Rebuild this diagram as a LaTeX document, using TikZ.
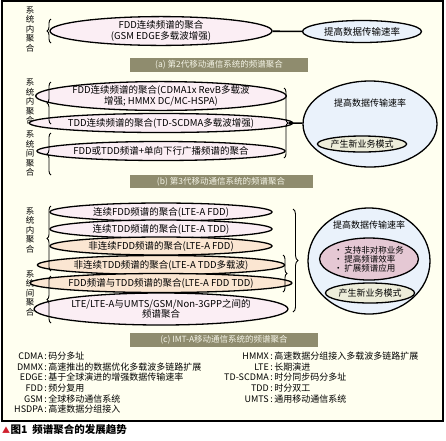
\documentclass[tikz,border=0pt]{standalone}
\usepackage{fontspec}
\setmainfont{Noto Sans CJK SC}
\usetikzlibrary{shapes.geometric,decorations.pathreplacing}
\definecolor{cream}{HTML}{FFFFF0}
\definecolor{pinkA}{HTML}{FBEEF4}
\definecolor{peach}{HTML}{FBE6D2}
\definecolor{blueA}{HTML}{EAF2FB}
\definecolor{sage}{HTML}{EDEDDA}
\definecolor{dpink}{HTML}{E5C8D4}
\definecolor{olive}{HTML}{8F8C6E}
\definecolor{captxt}{HTML}{F4F4E6}
\definecolor{redtri}{HTML}{D0202E}
\begin{document}
\begin{tikzpicture}[x=1pt,y=-1pt,
  lens/.style={ellipse, draw, line width=1.3pt, inner sep=0pt, align=center, font=\fontsize{9.5}{10.5}\selectfont},
  small/.style={ellipse, draw, line width=1.3pt, inner sep=0pt, align=center, font=\fontsize{9}{10}\selectfont},
  vlab/.style={align=center, inner sep=0pt, font=\fontsize{8.5}{9.6}\selectfont},
  capbar/.style={fill=olive, text=captxt, inner sep=0pt, font=\fontsize{8.5}{9}\selectfont},
  brc/.style={decorate, decoration={brace, amplitude=4pt}, line width=0.9pt},
  conn/.style={line width=1.6pt},
  plain/.style={inner sep=0pt, font=\fontsize{9}{10}\selectfont},
  legend/.style={inner sep=0pt, anchor=north west, font=\fontsize{9}{10.4}\selectfont}
]
\useasboundingbox (0,0) rectangle (446,440);
\fill[white] (0,0) rectangle (446,440);
\draw[line width=2pt, fill=cream] (2,1) rectangle (443,421);

% ---------- panel (a)
\node[vlab] (la) at (30,29) {系\\统\\内\\聚\\合};
\node[lens, fill=pinkA, minimum width=222pt, minimum height=23pt] (a1) at (161,31) {FDD连续频谱的聚合\\(GSM EDGE多载波增强)};
\node[lens, fill=blueA, minimum width=119pt, minimum height=22pt] (a2) at (362,31.5) {提高数据传输速率};
\draw[conn] (a1) -- (a2);
\draw[brc] (51,43) -- (51,19);
\node[capbar, minimum width=178pt, minimum height=14pt] (ca) at (219,65) {(a) 第2代移动通信系统的频谱聚合};

% ---------- panel (b)
\node[vlab] (lb1) at (30,101.5) {系\\统\\内\\聚\\合};
\node[vlab] (lb2) at (30,153.5) {系\\统\\间\\聚\\合};
\node[lens, fill=pinkA, minimum width=222pt, minimum height=24pt] (b1) at (161,96) {FDD连续频谱的聚合(CDMA1x RevB多载波\\增强; HMMX DC/MC-HSPA)};
\node[lens, fill=pinkA, minimum width=222pt, minimum height=19pt] (b2) at (161,123) {TDD连续频谱的聚合(TD-SCDMA多载波增强)};
\node[lens, fill=pinkA, minimum width=222pt, minimum height=19pt] (b3) at (161,151) {FDD或TDD频谱+单向下行广播频谱的聚合};
\draw[brc] (51,124) -- (51,82);
\draw[brc] (51,175) -- (51,133);
\draw[brc] (284,88) -- (284,158);
\coordinate (btip) at (288.5,123);
\node[ellipse, draw, line width=1.3pt, fill=blueA, minimum width=134pt, minimum height=86pt] (bc) at (370,124) {};
\draw[conn] (btip) -- (bc);
\node[plain] (bct) at (370,103) {提高数据传输速率};
\node[small, fill=sage, minimum width=87pt, minimum height=16pt] (bn) at (362,144) {产生新业务模式};
\node[capbar, minimum width=183pt, minimum height=13pt] (cb) at (221,181.5) {(b) 第3代移动通信系统的频谱聚合};

% ---------- panel (c)
\node[vlab] (lc1) at (30,230) {系\\统\\内\\聚\\合};
\node[vlab] (lc2) at (30,293) {系\\统\\间\\聚\\合};
\node[lens, fill=pinkA, minimum width=222pt, minimum height=18pt] (c1) at (161,212) {连续FDD频谱的聚合(LTE-A FDD)};
\node[lens, fill=pinkA, minimum width=222pt, minimum height=18pt] (c2) at (161,229) {连续TDD频谱的聚合(LTE-A TDD)};
\node[lens, fill=peach, minimum width=222pt, minimum height=18pt] (c3) at (161,246) {非连续FDD频谱的聚合(LTE-A FDD)};
\node[lens, fill=peach, minimum width=222pt, minimum height=19pt] (c4) at (161,265) {非连续TDD频谱的聚合(LTE-A TDD多载波)};
\node[lens, fill=peach, minimum width=222pt, minimum height=19pt] (c5) at (161,283) {FDD频谱与TDD频谱的聚合(LTE-A FDD TDD)};
\node[lens, fill=pinkA, minimum width=222pt, minimum height=32pt] (c6) at (161,309) {LTE/LTE-A与UMTS/GSM/Non-3GPP之间的\\频谱聚合};
\draw[brc] (51,271) -- (51,206);
\draw[brc] (51,323) -- (51,276);
\draw[brc] (283,255) -- (283,292);
\draw[brc, decoration={brace, amplitude=5pt}] (293,209) -- (293,312);
\node[ellipse, draw, line width=1.3pt, fill=blueA, minimum width=122pt, minimum height=106pt] (cc) at (369,261) {};
\node[plain] (cct) at (369,225) {提高数据传输速率};
\node[ellipse, draw, line width=1.3pt, fill=dpink, minimum width=88pt, minimum height=42pt, inner sep=0pt, align=left, font=\fontsize{8.5}{9}\selectfont] (cp) at (369,259) {• 支持非对称业务\\• 提高频谱效率\\• 扩展频谱应用};
\node[small, fill=sage, minimum width=86pt, minimum height=20pt] (cn) at (370,293) {产生新业务模式};
\node[capbar, minimum width=188pt, minimum height=14pt] (cca) at (224,340) {(c) IMT-A移动通信系统的频谱聚合};

% ---------- legend
\node[legend] (lg1) at (14,351.5) {\begin{tabular}{@{}r@{\,:\,}l@{}}
CDMA & 码分多址\\
DMMX & 高速推出的数据优化多载波多链路扩展\\
EDGE & 基于全球演进的增强数据传输速率\\
FDD & 频分复用\\
GSM & 全球移动通信系统\\
HSDPA & 高速数据分组接入
\end{tabular}};
\node[legend] (lg2) at (224,351.5) {\begin{tabular}{@{}r@{\,:\,}l@{}}
HMMX & 高速数据分组接入多载波多链路扩展\\
LTE & 长期演进\\
TD-SCDMA & 时分同步码分多址\\
TDD & 时分双工\\
UMTS & 通用移动通信系统
\end{tabular}};

% ---------- caption
\node[inner sep=0pt, anchor=west, text=redtri, font=\fontsize{8}{9}\selectfont] (tri) at (2,430) {▲};
\node[inner sep=0pt, anchor=west, font=\bfseries\fontsize{10.5}{12}\selectfont] (cap) at (tri.east) {图1\ \ 频谱聚合的发展趋势};
\end{tikzpicture}
\end{document}
